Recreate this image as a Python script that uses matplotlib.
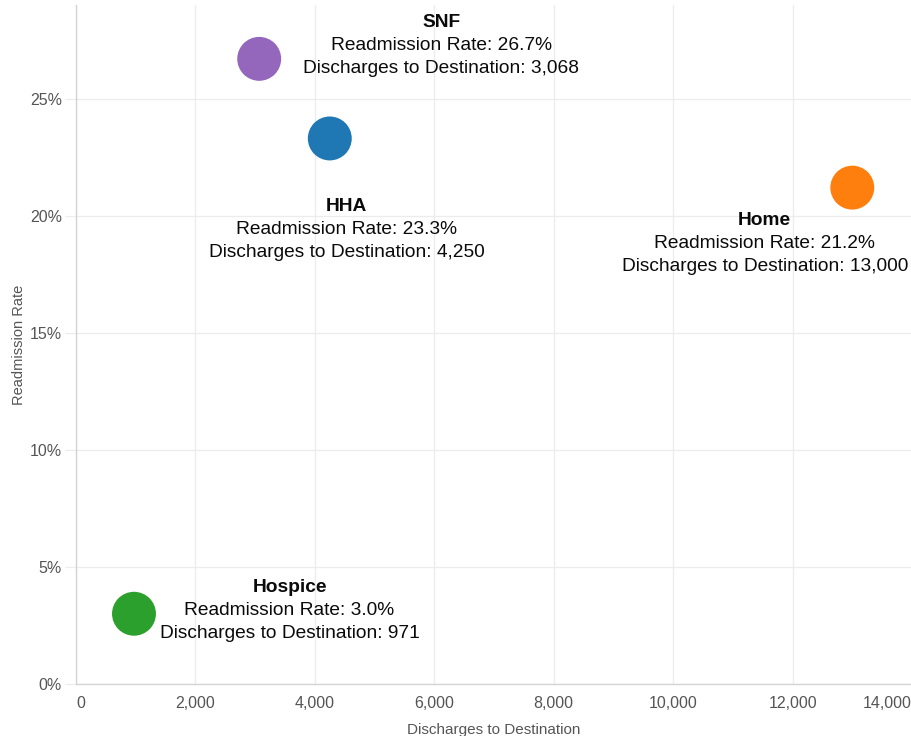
import matplotlib
matplotlib.use("Agg")
import matplotlib.pyplot as plt
from matplotlib.ticker import FuncFormatter

plt.rcParams['font.family'] = ['Liberation Sans', 'DejaVu Sans']

# data
destinations = ["SNF", "HHA", "Home", "Hospice"]
discharges = [3068, 4250, 13000, 971]
readmission_rate = [26.7, 23.3, 21.2, 3.0]
colors = ["#9467bd", "#1f77b4", "#ff7f0e", "#2ca02c"]
# label offsets (points) from each marker: (dx, dy) for the title line
label_offsets = [(131, 26), (12, -49), (-63, -24), (112, 19)]

fig = plt.figure(figsize=(9.12, 7.36), dpi=100)
ax = fig.add_axes([76 / 912, 52 / 736, 1 - 76 / 912, (684 - 5) / 736])

ax.scatter(discharges, readmission_rate, s=1000, c=colors, zorder=3, linewidths=0)

for name, x, y, (dx, dy) in zip(destinations, discharges, readmission_rate, label_offsets):
    lines = [
        (name, "bold"),
        (f"Readmission Rate: {y:.1f}%", "normal"),
        (f"Discharges to Destination: {x:,}", "normal"),
    ]
    for i, (txt, w) in enumerate(lines):
        ax.annotate(txt, (x, y), xytext=(dx, dy - i * 16.5), textcoords="offset points",
                    ha="center", va="center", fontsize=13.8, fontweight=w, color="#0a0a0a",
                    zorder=4)

ax.set_xlim(0, 13980)
ax.set_ylim(0, 29.0)
ax.set_xticks(range(0, 14001, 2000))
ax.set_yticks(range(0, 26, 5))
ax.set_xticklabels([f"{v:,}" for v in range(0, 14001, 2000)])
ax.yaxis.set_major_formatter(FuncFormatter(lambda v, p: f"{int(v)}%"))
labs = ax.get_xticklabels()
labs[0].set_horizontalalignment("left")
labs[-1].set_horizontalalignment("right")

ax.grid(True, color="#ececec", linewidth=0.9, zorder=0)
ax.set_axisbelow(True)
for s in ["top", "right"]:
    ax.spines[s].set_visible(False)
for s in ["left", "bottom"]:
    ax.spines[s].set_color("#d4d4d4")
    ax.spines[s].set_linewidth(1)

ax.tick_params(axis="x", length=0, pad=9, labelsize=11.5, labelcolor="#555555")
ax.tick_params(axis="y", length=8, color="#ececec", pad=2, labelsize=11.5, labelcolor="#555555")

ax.set_xlabel("Discharges to Destination", fontsize=11, color="#555555", labelpad=8)
ax.set_ylabel("Readmission Rate", fontsize=10.5, color="#555555", labelpad=3)

fig.savefig("out.png", dpi=100)
